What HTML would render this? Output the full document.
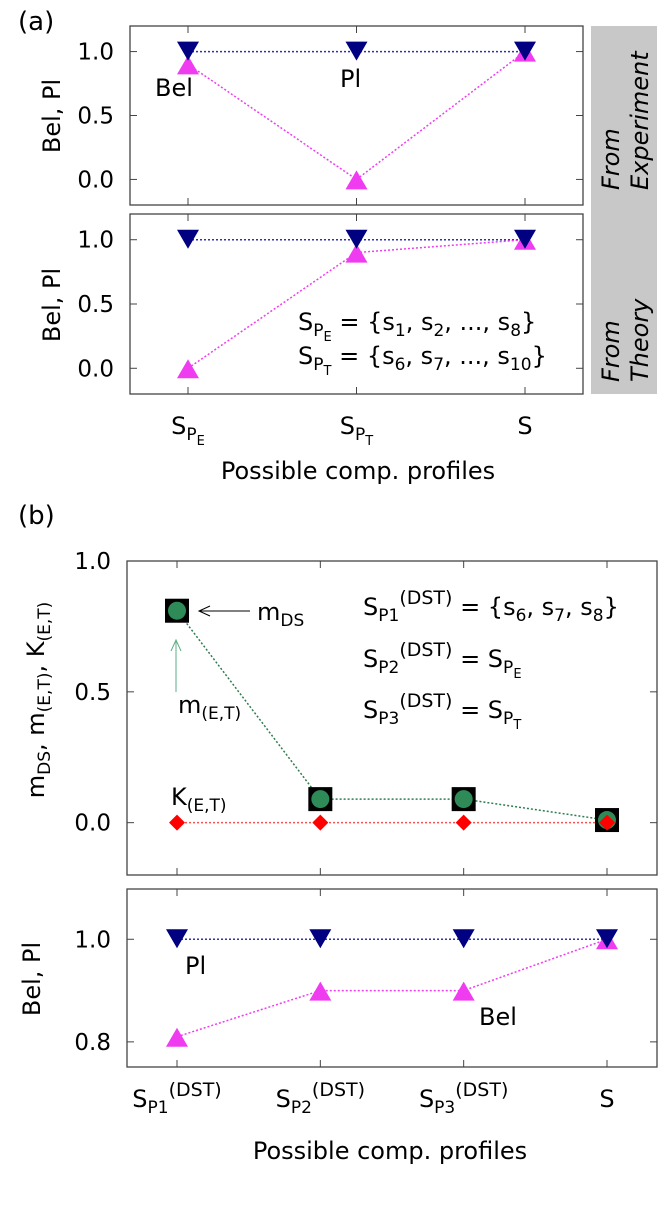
<!DOCTYPE html>
<html><head><meta charset="utf-8"><style>
body{margin:0;background:#fff}
svg{display:block;font-family:"DejaVu Sans","Liberation Sans",sans-serif}
</style></head><body>
<svg id="c" width="664" height="1212" viewBox="0 0 664 1212">
<g id="static" font-size="24" fill="#000">
<text x="18" y="30" font-size="26">(a)</text>
<text x="18" y="524" font-size="26">(b)</text>
<rect x="591" y="26" width="66" height="368" fill="#c8c8c8"/>
<text transform="translate(619,190) rotate(-90)" font-style="italic">From</text>
<text transform="translate(648,190) rotate(-90)" font-style="italic">Experiment</text>
<text transform="translate(619,382) rotate(-90)" font-style="italic">From</text>
<text transform="translate(648,382) rotate(-90)" font-style="italic">Theory</text>
<text transform="translate(60,116) rotate(-90)" text-anchor="middle">Bel, Pl</text>
<text transform="translate(60,305) rotate(-90)" text-anchor="middle">Bel, Pl</text>
<text x="358" y="479" text-anchor="middle">Possible comp. profiles</text>
<text transform="translate(44,700) rotate(-90)" text-anchor="middle">m<tspan font-size="17" dy="6">DS</tspan><tspan dy="-6">, m</tspan><tspan font-size="17" dy="6">(E,T)</tspan><tspan dy="-6">, K</tspan><tspan font-size="17" dy="6">(E,T)</tspan></text>
<text transform="translate(40,979) rotate(-90)" text-anchor="middle">Bel, Pl</text>
<text x="390" y="1159" text-anchor="middle">Possible comp. profiles</text>
<text x="155" y="96">Bel</text>
<text x="340" y="87">Pl</text>
<text x="298" y="330">S<tspan font-size="17" dy="6">P</tspan><tspan font-size="13" dy="5">E</tspan><tspan dy="-11"> = {s</tspan><tspan font-size="17" dy="6">1</tspan><tspan dy="-6">, s</tspan><tspan font-size="17" dy="6">2</tspan><tspan dy="-6">, ..., s</tspan><tspan font-size="17" dy="6">8</tspan><tspan dy="-6">}</tspan></text>
<text x="298" y="364">S<tspan font-size="17" dy="6">P</tspan><tspan font-size="13" dy="5">T</tspan><tspan dy="-11"> = {s</tspan><tspan font-size="17" dy="6">6</tspan><tspan dy="-6">, s</tspan><tspan font-size="17" dy="6">7</tspan><tspan dy="-6">, ..., s</tspan><tspan font-size="17" dy="6">10</tspan><tspan dy="-6">}</tspan></text>
<text x="363" y="615">S<tspan font-size="17" dy="6">P1</tspan><tspan font-size="19" dy="-17">(DST)</tspan><tspan dy="11"> = {s</tspan><tspan font-size="17" dy="6">6</tspan><tspan dy="-6">, s</tspan><tspan font-size="17" dy="6">7</tspan><tspan dy="-6">, s</tspan><tspan font-size="17" dy="6">8</tspan><tspan dy="-6">}</tspan></text>
<text x="363" y="667">S<tspan font-size="17" dy="6">P2</tspan><tspan font-size="19" dy="-17">(DST)</tspan><tspan dy="11"> = S</tspan><tspan font-size="17" dy="6">P</tspan><tspan font-size="13" dy="5">E</tspan></text>
<text x="363" y="718">S<tspan font-size="17" dy="6">P3</tspan><tspan font-size="19" dy="-17">(DST)</tspan><tspan dy="11"> = S</tspan><tspan font-size="17" dy="6">P</tspan><tspan font-size="13" dy="5">T</tspan></text>
<text x="257" y="620">m<tspan font-size="17" dy="6">DS</tspan></text>
<line x1="250" y1="611" x2="199" y2="611" stroke="#000" stroke-width="1"/>
<polyline points="210,606 199,611 210,616" fill="none" stroke="#000" stroke-width="1"/>
<text x="178" y="713">m<tspan font-size="17" dy="6">(E,T)</tspan></text>
<line x1="176" y1="692" x2="176" y2="640" stroke="#5fae84" stroke-width="1"/>
<polyline points="171,651 176,640 181,651" fill="none" stroke="#5fae84" stroke-width="1"/>
<text x="171" y="805">K<tspan font-size="17" dy="6">(E,T)</tspan></text>
<text x="185" y="974">Pl</text>
<text x="479" y="1025">Bel</text>
</g>
<g id="plots"></g>
</svg>
<script>
// Panel (a) top: From Experiment
const aCats = ['SPE','SPT','S'];
const aExpPl = [1.0, 1.0, 1.0];
const aExpBel = [0.9, 0.0, 1.0];
// Panel (a) bottom: From Theory
const aThPl = [1.0, 1.0, 1.0];
const aThBel = [0.0, 0.9, 1.0];
const aYTicks = [0.0, 0.5, 1.0];
// Panel (b)
const bCats = ['SP1','SP2','SP3','S'];
const bMds = [0.81, 0.09, 0.09, 0.01];
const bMet = [0.81, 0.09, 0.09, 0.01];
const bKet = [0.0, 0.0, 0.0, 0.0];
const bYTicks1 = [0.0, 0.5, 1.0];
const bPl = [1.0, 1.0, 1.0, 1.0];
const bBel = [0.81, 0.9, 0.9, 1.0];
const bYTicks2 = [0.8, 1.0];

const NS='http://www.w3.org/2000/svg';
const root=document.getElementById('plots');
function mk(tag,attrs,parent){const e=document.createElementNS(NS,tag);for(const k in attrs)e.setAttribute(k,attrs[k]);(parent||root).appendChild(e);return e;}
function panel(name,x0,x1,y0,y1,ymin,ymax,n,pad,ticks){
  const g=mk('g',{});
  
  
  const sx=i=>x0+pad+i*(x1-x0-2*pad)/(n-1);
  const sy=v=>y1-(v-ymin)/(ymax-ymin)*(y1-y0);
  const r=mk('rect',{x:x0,y:y0,width:x1-x0,height:y1-y0,fill:'none',stroke:'#444','stroke-width':1.3},g);
  
  
  ticks.forEach(t=>{
    const y=sy(t);
    mk('line',{x1:x0,x2:x0+7,y1:y,y2:y,stroke:'#444'},g);
    mk('line',{x1:x1,x2:x1-7,y1:y,y2:y,stroke:'#444'},g);
    const tx=mk('text',{x:x0-16,y:y+8,'text-anchor':'end','font-size':23},g);
    tx.textContent=t.toFixed(1);
    
    
  });
  for(let i=0;i<n;i++){const x=sx(i);mk('line',{x1:x,x2:x,y1:y0,y2:y0+7,stroke:'#444'},g);mk('line',{x1:x,x2:x,y1:y1,y2:y1-7,stroke:'#444'},g);}
  return {g,sx,sy};
}
function line(p,vals,color,name){
  const pts=vals.map((v,i)=>p.sx(i)+','+p.sy(v)).join(' ');
  const l=mk('polyline',{points:pts,fill:'none',stroke:color,'stroke-width':1.5,'stroke-dasharray':'2,2'},p.g);
  
  
}
function markers(p,vals,kind,color,name){
  vals.forEach((v,i)=>{
    const x=p.sx(i),y=p.sy(v);let e;
    if(kind==='down')e=mk('polygon',{points:`${x-11},${y-10} ${x+11},${y-10} ${x},${y+9}`,fill:color},p.g);
    else if(kind==='up')e=mk('polygon',{points:`${x-11},${y+10} ${x+11},${y+10} ${x},${y-9}`,fill:color},p.g);
    else if(kind==='square')e=mk('rect',{x:x-12,y:y-12,width:24,height:24,fill:'#000'},p.g);
    else if(kind==='circle')e=mk('circle',{cx:x,cy:y,r:9,fill:color},p.g);
    else e=mk('polygon',{points:`${x-8},${y} ${x},${y-8} ${x+8},${y} ${x},${y+8}`,fill:color},p.g);
    
    
  });
}
function xlabels(p,n,y,html){
  for(let i=0;i<n;i++){
    const t=mk('text',{x:p.sx(i),y:y,'text-anchor':'middle','font-size':24},p.g);
    t.innerHTML=html[i];
    
    
  }
}
const NAVY='#000080',MAG='#f03cf0',GRN='#2e8b57',RED='#ff0000';
const a1=panel('panel-a-experiment',130,583,26,205,-0.2,1.2,aCats.length,58,aYTicks);
line(a1,aExpPl,'#3030b0','a1-pl');line(a1,aExpBel,MAG,'a1-bel');
markers(a1,aExpBel,'up',MAG,'a1-bel');markers(a1,aExpPl,'down',NAVY,'a1-pl');
const a2=panel('panel-a-theory',130,583,214,394,-0.2,1.2,aCats.length,58,aYTicks);
line(a2,aThPl,'#3030b0','a2-pl');line(a2,aThBel,MAG,'a2-bel');
markers(a2,aThBel,'up',MAG,'a2-bel');markers(a2,aThPl,'down',NAVY,'a2-pl');
const sub=(s)=>`S<tspan font-size="17" dy="6">P</tspan><tspan font-size="13" dy="5">${s}</tspan>`;
xlabels(a2,aCats.length,434,[sub('E'),sub('T'),'S']);
const b1=panel('panel-b-mass',127,657,561,875,-0.2,1.0,bCats.length,50,bYTicks1);
line(b1,bMds,'#2e7d4f','b1-mds');line(b1,bKet,'#ff5050','b1-ket');
markers(b1,bMds,'square','#000','b1-mds');markers(b1,bMet,'circle',GRN,'b1-met');markers(b1,bKet,'diamond',RED,'b1-ket');
const b2=panel('panel-b-belpl',127,657,889,1067,0.751,1.098,bCats.length,50,bYTicks2);
line(b2,bPl,'#3030b0','b2-pl');line(b2,bBel,MAG,'b2-bel');
markers(b2,bBel,'up',MAG,'b2-bel');markers(b2,bPl,'down',NAVY,'b2-pl');
const dst=(k)=>`S<tspan font-size="17" dy="6">P${k}</tspan><tspan font-size="19" dy="-17">(DST)</tspan>`;
xlabels(b2,bCats.length,1107,[dst(1),dst(2),dst(3),'S']);
</script>
</body></html>
